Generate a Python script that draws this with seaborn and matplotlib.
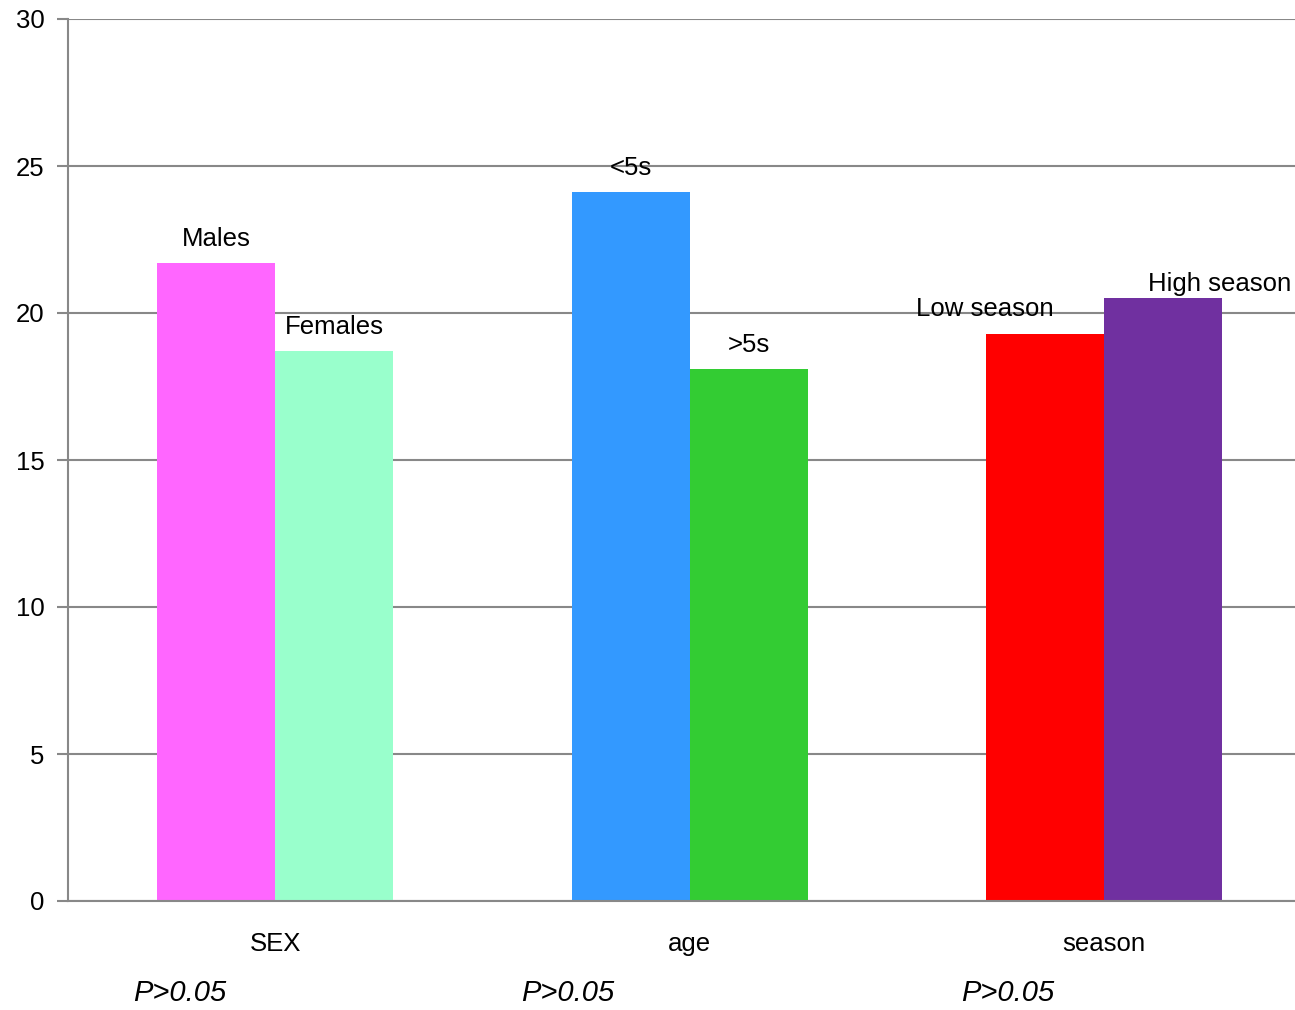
import matplotlib
matplotlib.use("Agg")
import matplotlib.pyplot as plt
import seaborn as sns
import pandas as pd

# Infection rate by factor
groups = ["SEX", "SEX", "age", "age", "season", "season"]
slots = ["first", "second", "first", "second", "first", "second"]
labels = ["Males", "Females", "<5s", ">5s", "Low season", "High season"]
values = [21.7, 18.7, 24.1, 18.1, 19.3, 20.5]
colors = ["#FF66FF", "#99FFCC", "#3399FF", "#33CC33", "#FF0000", "#7030A0"]
group_names = ["SEX", "age", "season"]
p_texts = ["P>0.05", "P>0.05", "P>0.05"]
y_ticks = [0, 5, 10, 15, 20, 25, 30]

# label offsets (pixels) relative to each bar's top centre
label_offsets = [(0, 24), (0, 24), (0, 24), (0, 24), (-60, 25), (56, 14)]

df = pd.DataFrame({"group": groups, "slot": slots, "label": labels, "value": values})

sns.set_theme(style="white")
plt.rcParams["font.family"] = ["Liberation Sans", "DejaVu Sans"]
plt.rcParams["text.color"] = "black"
plt.rcParams["xtick.color"] = "black"
plt.rcParams["ytick.color"] = "black"

FS = 18.5

fig = plt.figure(figsize=(12.95, 10.10), dpi=100)
ax = fig.add_axes([68 / 1295, 109 / 1010, 1 - 68 / 1295, 882 / 1010])

sns.barplot(data=df, x="group", y="value", hue="slot", order=group_names,
            hue_order=["first", "second"], width=0.57, dodge=True,
            palette=["#888888", "#888888"], legend=False, ax=ax,
            saturation=1, linewidth=0, errorbar=None)

# colour each bar and write its label
for hi, cont in enumerate(ax.containers):
    for gi, patch in enumerate(cont.patches):
        idx = gi * 2 + hi
        patch.set_facecolor(colors[idx])
        patch.set_edgecolor("none")
        cx = patch.get_x() + patch.get_width() / 2
        top = patch.get_height()
        dx, dy = label_offsets[idx]
        ax.annotate(labels[idx], (cx, top), xytext=(dx, dy),
                    textcoords="offset pixels", ha="center", va="center",
                    fontsize=FS, color="black")

ax.set_ylim(0, 30)
ax.set_yticks(y_ticks)
ax.set_yticklabels([str(t) for t in y_ticks], fontsize=FS, color="black")
ax.set_xlim(-0.5, -0.5 + (1295 - 68) / 414.5)
ax.set_xticks([0, 1, 2])
ax.set_xticklabels(group_names, fontsize=FS, color="black")
ax.set_xlabel("")
ax.set_ylabel("")

# category boundary ticks below the axis
ax.set_xticks([-0.5, 0.5, 1.5], minor=True)
ax.tick_params(axis="x", which="major", length=0, pad=22)
ax.tick_params(axis="x", which="minor", length=7, width=1.5, color="#888888", direction="out")
ax.tick_params(axis="y", which="major", length=8, width=1.5, color="#888888",
               labelcolor="black", direction="out", pad=9, left=True)

ax.yaxis.grid(True, color="#888888", linewidth=1.5)
ax.xaxis.grid(False)
ax.set_axisbelow(True)
for side in ["top", "right"]:
    ax.spines[side].set_visible(False)
for side in ["left", "bottom"]:
    ax.spines[side].set_color("#888888")
    ax.spines[side].set_linewidth(1.5)

# significance notes under each group
for gi, txt in enumerate(p_texts):
    xpix = [180, 568, 1008][gi]
    fig.text(xpix / 1295, 1 - 993 / 1010, txt, ha="center", va="center",
             fontsize=21, style="italic", color="black")

fig.savefig("out.png", dpi=100)
